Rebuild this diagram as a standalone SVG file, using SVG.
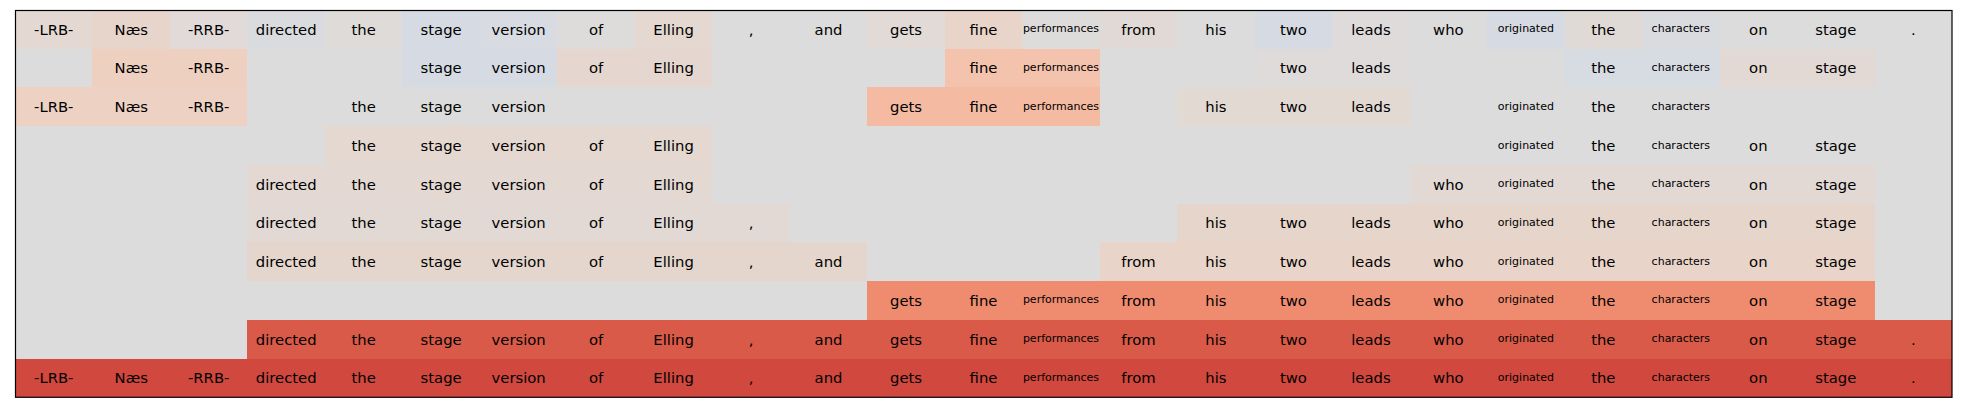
<svg xmlns="http://www.w3.org/2000/svg" width="1962" height="412" viewBox="0 0 1962 412">
<style>
text{font-family:"DejaVu Sans","Liberation Sans",sans-serif;fill:#000;text-anchor:middle}
.t{font-size:14.8px}
.s{font-size:11px}
.bg{fill:#dcdcdc}
</style>
<rect x="0" y="0" width="1962" height="412" fill="#ffffff"/>
<g id="heatmap" shape-rendering="crispEdges">
<rect class="bg" x="15" y="10" width="1937" height="387.3"/>
<g id="row1">
<rect x="15" y="10" width="77.48" height="38.73" fill="#e4d9d2"/>
<rect x="92.48" y="10" width="77.48" height="38.73" fill="#e7d5cc"/>
<rect x="169.96" y="10" width="77.48" height="38.73" fill="#e1dad8"/>
<rect x="247.44" y="10" width="77.48" height="38.73" fill="#dadbdf"/>
<rect x="324.92" y="10" width="77.48" height="38.73" fill="#dfdbd9"/>
<rect x="402.4" y="10" width="77.48" height="38.73" fill="#d6dae3"/>
<rect x="479.88" y="10" width="77.48" height="38.73" fill="#d8dbe2"/>
<rect x="557.36" y="10" width="77.48" height="38.73" fill="#dddcdb"/>
<rect x="634.84" y="10" width="77.48" height="38.73" fill="#e4d8d0"/>
<rect x="867.28" y="10" width="77.48" height="38.73" fill="#e1dad7"/>
<rect x="944.76" y="10" width="77.48" height="38.73" fill="#e8d4c9"/>
<rect x="1022.24" y="10" width="77.48" height="38.73" fill="#dddcdb"/>
<rect x="1099.72" y="10" width="77.48" height="38.73" fill="#e1d9d6"/>
<rect x="1254.68" y="10" width="77.48" height="38.73" fill="#d5dae3"/>
<rect x="1332.16" y="10" width="77.48" height="38.73" fill="#dedbda"/>
<rect x="1409.64" y="10" width="77.48" height="38.73" fill="#dcdcdd"/>
<rect x="1487.12" y="10" width="77.48" height="38.73" fill="#d6dae2"/>
<rect x="1564.6" y="10" width="77.48" height="38.73" fill="#e0dad7"/>
<rect x="1642.08" y="10" width="77.48" height="38.73" fill="#dadbdf"/>
</g>
<g id="row2">
<rect x="92.48" y="48.73" width="154.96" height="38.73" fill="#eed0c0"/>
<rect x="402.4" y="48.73" width="154.96" height="38.73" fill="#d6dbe3"/>
<rect x="557.36" y="48.73" width="154.96" height="38.73" fill="#e5d7cf"/>
<rect x="944.76" y="48.73" width="154.96" height="38.73" fill="#f4c3ad"/>
<rect x="1254.68" y="48.73" width="154.96" height="38.73" fill="#dedbda"/>
<rect x="1564.6" y="48.73" width="154.96" height="38.73" fill="#d7dbe2"/>
<rect x="1719.56" y="48.73" width="154.96" height="38.73" fill="#e2d9d5"/>
</g>
<g id="row3">
<rect x="15" y="87.46" width="232.44" height="38.73" fill="#edd1c2"/>
<rect x="867.28" y="87.46" width="232.44" height="38.73" fill="#f5bba2"/>
<rect x="1177.2" y="87.46" width="232.44" height="38.73" fill="#e3d9d3"/>
</g>
<g id="row4">
<rect x="324.92" y="126.19" width="387.4" height="38.73" fill="#e4d8d1"/>
</g>
<g id="row5">
<rect x="247.44" y="164.92" width="464.88" height="38.73" fill="#e3d8d2"/>
<rect x="1409.64" y="164.92" width="464.88" height="38.73" fill="#e2d9d5"/>
</g>
<g id="row6">
<rect x="247.44" y="203.65" width="542.36" height="38.73" fill="#e2d9d5"/>
<rect x="1177.2" y="203.65" width="697.32" height="38.73" fill="#e6d5cb"/>
</g>
<g id="row7">
<rect x="247.44" y="242.38" width="619.84" height="38.73" fill="#e5d6cd"/>
<rect x="1099.72" y="242.38" width="774.8" height="38.73" fill="#e8d4c9"/>
</g>
<g id="row8">
<rect x="867.28" y="281.11" width="1007.24" height="38.73" fill="#ef8c6f"/>
</g>
<g id="row9">
<rect x="247.44" y="319.84" width="1704.56" height="38.73" fill="#d95a48"/>
</g>
<g id="row10">
<rect x="15" y="358.57" width="1937" height="38.73" fill="#d0483e"/>
</g>
</g>
<g id="labels">
<g id="labels-row1">
<text class="t" x="53.74" y="34.7">-LRB-</text>
<text class="t" x="131.22" y="34.7">Næs</text>
<text class="t" x="208.7" y="34.7">-RRB-</text>
<text class="t" x="286.18" y="34.7">directed</text>
<text class="t" x="363.66" y="34.7">the</text>
<text class="t" x="441.14" y="34.7">stage</text>
<text class="t" x="518.62" y="34.7">version</text>
<text class="t" x="596.1" y="34.7">of</text>
<text class="t" x="673.58" y="34.7">Elling</text>
<text class="t" x="751.06" y="34.7">,</text>
<text class="t" x="828.54" y="34.7">and</text>
<text class="t" x="906.02" y="34.7">gets</text>
<text class="t" x="983.5" y="34.7">fine</text>
<text class="s" x="1060.98" y="32.3">performances</text>
<text class="t" x="1138.46" y="34.7">from</text>
<text class="t" x="1215.94" y="34.7">his</text>
<text class="t" x="1293.42" y="34.7">two</text>
<text class="t" x="1370.9" y="34.7">leads</text>
<text class="t" x="1448.38" y="34.7">who</text>
<text class="s" x="1525.86" y="32.3">originated</text>
<text class="t" x="1603.34" y="34.7">the</text>
<text class="s" x="1680.82" y="32.3">characters</text>
<text class="t" x="1758.3" y="34.7">on</text>
<text class="t" x="1835.78" y="34.7">stage</text>
<text class="t" x="1913.26" y="34.7">.</text>
</g>
<g id="labels-row2">
<text class="t" x="131.22" y="73.4">Næs</text>
<text class="t" x="208.7" y="73.4">-RRB-</text>
<text class="t" x="441.14" y="73.4">stage</text>
<text class="t" x="518.62" y="73.4">version</text>
<text class="t" x="596.1" y="73.4">of</text>
<text class="t" x="673.58" y="73.4">Elling</text>
<text class="t" x="983.5" y="73.4">fine</text>
<text class="s" x="1060.98" y="71">performances</text>
<text class="t" x="1293.42" y="73.4">two</text>
<text class="t" x="1370.9" y="73.4">leads</text>
<text class="t" x="1603.34" y="73.4">the</text>
<text class="s" x="1680.82" y="71">characters</text>
<text class="t" x="1758.3" y="73.4">on</text>
<text class="t" x="1835.78" y="73.4">stage</text>
</g>
<g id="labels-row3">
<text class="t" x="53.74" y="112.1">-LRB-</text>
<text class="t" x="131.22" y="112.1">Næs</text>
<text class="t" x="208.7" y="112.1">-RRB-</text>
<text class="t" x="363.66" y="112.1">the</text>
<text class="t" x="441.14" y="112.1">stage</text>
<text class="t" x="518.62" y="112.1">version</text>
<text class="t" x="906.02" y="112.1">gets</text>
<text class="t" x="983.5" y="112.1">fine</text>
<text class="s" x="1060.98" y="109.7">performances</text>
<text class="t" x="1215.94" y="112.1">his</text>
<text class="t" x="1293.42" y="112.1">two</text>
<text class="t" x="1370.9" y="112.1">leads</text>
<text class="s" x="1525.86" y="109.7">originated</text>
<text class="t" x="1603.34" y="112.1">the</text>
<text class="s" x="1680.82" y="109.7">characters</text>
</g>
<g id="labels-row4">
<text class="t" x="363.66" y="150.9">the</text>
<text class="t" x="441.14" y="150.9">stage</text>
<text class="t" x="518.62" y="150.9">version</text>
<text class="t" x="596.1" y="150.9">of</text>
<text class="t" x="673.58" y="150.9">Elling</text>
<text class="s" x="1525.86" y="148.5">originated</text>
<text class="t" x="1603.34" y="150.9">the</text>
<text class="s" x="1680.82" y="148.5">characters</text>
<text class="t" x="1758.3" y="150.9">on</text>
<text class="t" x="1835.78" y="150.9">stage</text>
</g>
<g id="labels-row5">
<text class="t" x="286.18" y="189.6">directed</text>
<text class="t" x="363.66" y="189.6">the</text>
<text class="t" x="441.14" y="189.6">stage</text>
<text class="t" x="518.62" y="189.6">version</text>
<text class="t" x="596.1" y="189.6">of</text>
<text class="t" x="673.58" y="189.6">Elling</text>
<text class="t" x="1448.38" y="189.6">who</text>
<text class="s" x="1525.86" y="187.2">originated</text>
<text class="t" x="1603.34" y="189.6">the</text>
<text class="s" x="1680.82" y="187.2">characters</text>
<text class="t" x="1758.3" y="189.6">on</text>
<text class="t" x="1835.78" y="189.6">stage</text>
</g>
<g id="labels-row6">
<text class="t" x="286.18" y="228.3">directed</text>
<text class="t" x="363.66" y="228.3">the</text>
<text class="t" x="441.14" y="228.3">stage</text>
<text class="t" x="518.62" y="228.3">version</text>
<text class="t" x="596.1" y="228.3">of</text>
<text class="t" x="673.58" y="228.3">Elling</text>
<text class="t" x="751.06" y="228.3">,</text>
<text class="t" x="1215.94" y="228.3">his</text>
<text class="t" x="1293.42" y="228.3">two</text>
<text class="t" x="1370.9" y="228.3">leads</text>
<text class="t" x="1448.38" y="228.3">who</text>
<text class="s" x="1525.86" y="225.9">originated</text>
<text class="t" x="1603.34" y="228.3">the</text>
<text class="s" x="1680.82" y="225.9">characters</text>
<text class="t" x="1758.3" y="228.3">on</text>
<text class="t" x="1835.78" y="228.3">stage</text>
</g>
<g id="labels-row7">
<text class="t" x="286.18" y="267.1">directed</text>
<text class="t" x="363.66" y="267.1">the</text>
<text class="t" x="441.14" y="267.1">stage</text>
<text class="t" x="518.62" y="267.1">version</text>
<text class="t" x="596.1" y="267.1">of</text>
<text class="t" x="673.58" y="267.1">Elling</text>
<text class="t" x="751.06" y="267.1">,</text>
<text class="t" x="828.54" y="267.1">and</text>
<text class="t" x="1138.46" y="267.1">from</text>
<text class="t" x="1215.94" y="267.1">his</text>
<text class="t" x="1293.42" y="267.1">two</text>
<text class="t" x="1370.9" y="267.1">leads</text>
<text class="t" x="1448.38" y="267.1">who</text>
<text class="s" x="1525.86" y="264.7">originated</text>
<text class="t" x="1603.34" y="267.1">the</text>
<text class="s" x="1680.82" y="264.7">characters</text>
<text class="t" x="1758.3" y="267.1">on</text>
<text class="t" x="1835.78" y="267.1">stage</text>
</g>
<g id="labels-row8">
<text class="t" x="906.02" y="305.8">gets</text>
<text class="t" x="983.5" y="305.8">fine</text>
<text class="s" x="1060.98" y="303.4">performances</text>
<text class="t" x="1138.46" y="305.8">from</text>
<text class="t" x="1215.94" y="305.8">his</text>
<text class="t" x="1293.42" y="305.8">two</text>
<text class="t" x="1370.9" y="305.8">leads</text>
<text class="t" x="1448.38" y="305.8">who</text>
<text class="s" x="1525.86" y="303.4">originated</text>
<text class="t" x="1603.34" y="305.8">the</text>
<text class="s" x="1680.82" y="303.4">characters</text>
<text class="t" x="1758.3" y="305.8">on</text>
<text class="t" x="1835.78" y="305.8">stage</text>
</g>
<g id="labels-row9">
<text class="t" x="286.18" y="344.5">directed</text>
<text class="t" x="363.66" y="344.5">the</text>
<text class="t" x="441.14" y="344.5">stage</text>
<text class="t" x="518.62" y="344.5">version</text>
<text class="t" x="596.1" y="344.5">of</text>
<text class="t" x="673.58" y="344.5">Elling</text>
<text class="t" x="751.06" y="344.5">,</text>
<text class="t" x="828.54" y="344.5">and</text>
<text class="t" x="906.02" y="344.5">gets</text>
<text class="t" x="983.5" y="344.5">fine</text>
<text class="s" x="1060.98" y="342.1">performances</text>
<text class="t" x="1138.46" y="344.5">from</text>
<text class="t" x="1215.94" y="344.5">his</text>
<text class="t" x="1293.42" y="344.5">two</text>
<text class="t" x="1370.9" y="344.5">leads</text>
<text class="t" x="1448.38" y="344.5">who</text>
<text class="s" x="1525.86" y="342.1">originated</text>
<text class="t" x="1603.34" y="344.5">the</text>
<text class="s" x="1680.82" y="342.1">characters</text>
<text class="t" x="1758.3" y="344.5">on</text>
<text class="t" x="1835.78" y="344.5">stage</text>
<text class="t" x="1913.26" y="344.5">.</text>
</g>
<g id="labels-row10">
<text class="t" x="53.74" y="383.2">-LRB-</text>
<text class="t" x="131.22" y="383.2">Næs</text>
<text class="t" x="208.7" y="383.2">-RRB-</text>
<text class="t" x="286.18" y="383.2">directed</text>
<text class="t" x="363.66" y="383.2">the</text>
<text class="t" x="441.14" y="383.2">stage</text>
<text class="t" x="518.62" y="383.2">version</text>
<text class="t" x="596.1" y="383.2">of</text>
<text class="t" x="673.58" y="383.2">Elling</text>
<text class="t" x="751.06" y="383.2">,</text>
<text class="t" x="828.54" y="383.2">and</text>
<text class="t" x="906.02" y="383.2">gets</text>
<text class="t" x="983.5" y="383.2">fine</text>
<text class="s" x="1060.98" y="380.8">performances</text>
<text class="t" x="1138.46" y="383.2">from</text>
<text class="t" x="1215.94" y="383.2">his</text>
<text class="t" x="1293.42" y="383.2">two</text>
<text class="t" x="1370.9" y="383.2">leads</text>
<text class="t" x="1448.38" y="383.2">who</text>
<text class="s" x="1525.86" y="380.8">originated</text>
<text class="t" x="1603.34" y="383.2">the</text>
<text class="s" x="1680.82" y="380.8">characters</text>
<text class="t" x="1758.3" y="383.2">on</text>
<text class="t" x="1835.78" y="383.2">stage</text>
<text class="t" x="1913.26" y="383.2">.</text>
</g>
</g>
<rect id="frame" x="15.5" y="10.5" width="1936.5" height="386.8" fill="none" stroke="#000" stroke-width="1.2"/>
</svg>
